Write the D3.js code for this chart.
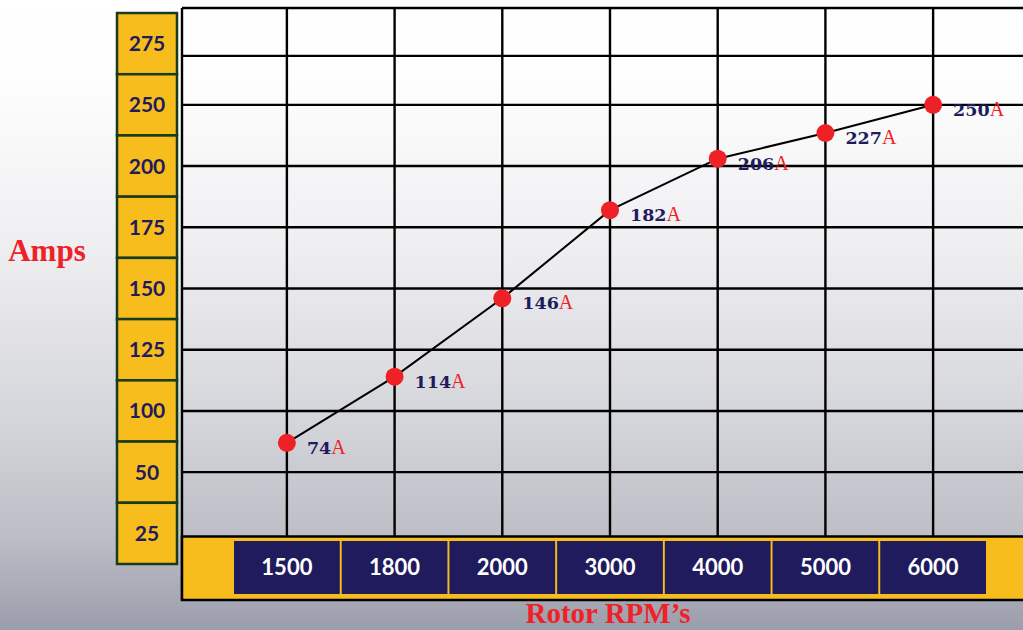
<!DOCTYPE html>
<html>
<head>
<meta charset="utf-8">
<script src="https://cdn.jsdelivr.net/npm/d3@7"></script>
<style>
  html, body { margin: 0; padding: 0; overflow: hidden; }
  svg { display: block; }
</style>
</head>
<body>
<script>
// ---- data ----
const categories = ["1500", "1800", "2000", "3000", "4000", "5000", "6000"];
const amps = [74, 114, 146, 182, 206, 227, 250];
const yTicks = [275, 250, 200, 175, 150, 125, 100, 50, 25];
const gridValues = [270, 250, 200, 175, 150, 125, 100, 50];
const yTitle = "Amps";
const xTitle = "Rotor RPM\u2019s";
const unit = "A";

// ---- layout ----
const W = 1023, H = 630;
const plotL = 182, plotT = 8, plotR = W + 5;
const barT = 536.5, barB = 600;
const yBoxL = 117, yBoxR = 177;

const YELLOW = "#f6bd1d", NAVY = "#1f1b5c", RED = "#ee2226", GREEN = "#183a1d";

const svg = d3.select("body").append("svg").attr("width", W).attr("height", H);

const defs = svg.append("defs");
const grad = defs.append("linearGradient").attr("id", "bg").attr("x1", 0).attr("y1", 0).attr("x2", 0).attr("y2", 1);
[[0, "#ffffff"], [0.12, "#fefefe"], [0.4, "#eeeef1"], [0.68, "#d3d4d9"], [0.85, "#bdbec6"], [1, "#9c9dac"]]
  .forEach(([o, c]) => grad.append("stop").attr("offset", o).attr("stop-color", c));
svg.append("rect").attr("width", W).attr("height", H).attr("fill", "url(#bg)");

// ---- scales ----
const yBand = d3.scaleBand().domain(yTicks).range([13, 564]).padding(0);
const ySorted = yTicks.slice().sort((a, b) => a - b);
const y = d3.scaleLinear()
  .domain(ySorted)
  .range(ySorted.map(t => yBand(t) + yBand.bandwidth() / 2));

const x = d3.scaleBand().domain(categories).range([234, 986]).paddingInner(0.018);
const cx = c => x(c) + x.bandwidth() / 2;

// ---- grid ----
const grid = svg.append("g").attr("stroke", "#000").attr("stroke-width", 2.4);
grid.selectAll("line.h").data(gridValues).join("line").attr("class", "h")
  .attr("x1", plotL).attr("x2", plotR)
  .attr("y1", d => y(d)).attr("y2", d => y(d));
grid.selectAll("line.v").data(categories).join("line").attr("class", "v")
  .attr("x1", d => cx(d)).attr("x2", d => cx(d))
  .attr("y1", plotT).attr("y2", barT);
// plot frame (top + left)
grid.append("line").attr("x1", plotL).attr("x2", plotR).attr("y1", plotT).attr("y2", plotT);
grid.append("line").attr("x1", plotL).attr("x2", plotL).attr("y1", plotT).attr("y2", barB);

// ---- x axis bar ----
svg.append("rect").attr("x", plotL).attr("y", barT).attr("width", plotR - plotL).attr("height", barB - barT)
  .attr("fill", YELLOW).attr("stroke", "#000").attr("stroke-width", 2.5);
const xg = svg.append("g");
xg.selectAll("rect").data(categories).join("rect")
  .attr("x", d => x(d)).attr("y", 541).attr("width", x.bandwidth()).attr("height", 53)
  .attr("fill", NAVY);
xg.selectAll("text").data(categories).join("text")
  .attr("x", d => cx(d)).attr("y", 575)
  .attr("text-anchor", "middle")
  .attr("fill", "#ffffff")
  .style("font-family", "Lato, 'Open Sans', sans-serif")
  .style("font-weight", 700).style("font-size", "22px")
  .text(d => d);

// ---- y axis boxes ----
const yg = svg.append("g");
yg.selectAll("rect").data(yTicks).join("rect")
  .attr("x", yBoxL).attr("y", d => yBand(d)).attr("width", yBoxR - yBoxL).attr("height", yBand.bandwidth())
  .attr("fill", YELLOW).attr("stroke", GREEN).attr("stroke-width", 2.5);
yg.selectAll("text").data(yTicks).join("text")
  .attr("x", (yBoxL + yBoxR) / 2).attr("y", d => y(d) + 7.5)
  .attr("text-anchor", "middle")
  .attr("fill", NAVY)
  .style("font-family", "Lato, 'Open Sans', sans-serif")
  .style("font-weight", 700).style("font-size", "21px")
  .text(d => d);

// ---- line + points ----
const pts = categories.map((c, i) => ({ c, v: amps[i] }));
svg.append("path").datum(pts)
  .attr("d", d3.line().x(d => cx(d.c)).y(d => y(d.v)))
  .attr("fill", "none").attr("stroke", "#000").attr("stroke-width", 2);
svg.selectAll("circle.pt").data(pts).join("circle").attr("class", "pt")
  .attr("cx", d => cx(d.c)).attr("cy", d => y(d.v)).attr("r", 9)
  .attr("fill", RED);

const lab = svg.selectAll("text.lab").data(pts).join("text").attr("class", "lab")
  .attr("x", d => cx(d.c) + 20).attr("y", d => y(d.v) + 11)
  .style("font-family", "'DejaVu Serif', serif")
  .style("font-weight", 700).style("font-size", "17.5px");
lab.append("tspan").attr("fill", NAVY).text(d => d.v);
lab.append("tspan").attr("fill", RED).style("font-weight", 400).style("font-family", "'Liberation Serif', serif").style("font-size", "20px").text(unit);

// ---- titles ----
svg.append("text").attr("x", 47).attr("y", 261).attr("text-anchor", "middle")
  .attr("fill", RED)
  .style("font-family", "'Liberation Serif', 'Times New Roman', serif")
  .style("font-weight", 700).style("font-size", "31px")
  .text(yTitle);
svg.append("text").attr("x", 608).attr("y", 623).attr("text-anchor", "middle")
  .attr("fill", RED)
  .style("font-family", "'Liberation Serif', 'Times New Roman', serif")
  .style("font-weight", 700).style("font-size", "29px")
  .text(xTitle);
</script>
</body>
</html>
